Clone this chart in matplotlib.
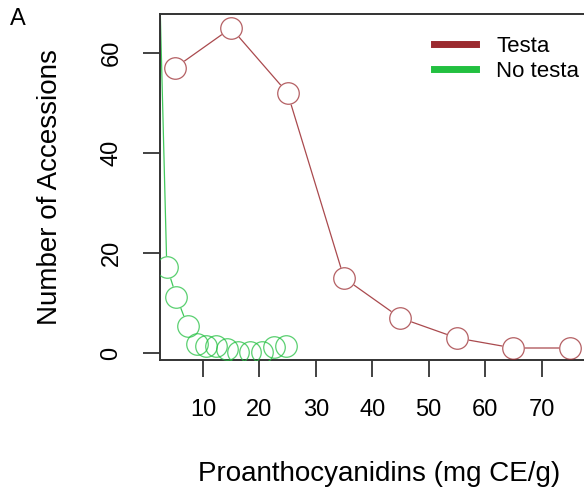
import matplotlib
matplotlib.use("Agg")
import matplotlib.pyplot as plt
from matplotlib.lines import Line2D

plt.rcParams["font.family"] = ["Liberation Sans", "DejaVu Sans"]

# Testa group: bin centres and counts
testa_x = [5, 15, 25, 35, 45, 55, 65, 75]
testa_y = [57, 65, 52, 15, 7, 3, 1, 1]

# No-testa group (first bin is off the top of the chart)
notesta_x = [1.5, 3.6, 5.3, 7.3, 9.0, 10.5, 12.4, 14.3, 16.3, 18.3, 20.4, 22.6, 24.7]
notesta_y = [110, 17.3, 11.3, 5.4, 1.9, 1.4, 1.4, 0.8, 0.3, 0.3, 0.3, 1.3, 1.4]

red = "#9b2a2f"
green = "#22c040"

fig = plt.figure(figsize=(5.84, 4.96), dpi=100)
ax = fig.add_axes([160 / 584, 136 / 496, 438 / 584, 346 / 496])

for xs, ys, col in [(testa_x, testa_y, red), (notesta_x, notesta_y, green)]:
    ax.plot(xs, ys, color=col, lw=0.9, alpha=0.85, zorder=1)
    # white discs break the line inside each circle, like R type="b"
    ax.plot(xs, ys, "o", ms=16.5, mfc="white", mec="none", zorder=2)
    ax.plot(xs, ys, "o", ms=15.5, mfc="none", mec=col, mew=0.9, alpha=0.75, zorder=3)

ax.set_xlim(2.4, 80)
ax.set_ylim(-1.4, 67.8)
ax.set_xticks([10, 20, 30, 40, 50, 60, 70])
ax.set_yticks([0, 20, 40, 60])
ax.tick_params(axis="both", length=12, width=1.2, labelsize=17, color="#222222")
ax.tick_params(axis="x", pad=16)
ax.tick_params(axis="y", pad=15)
for lab in ax.get_yticklabels():
    lab.set_rotation(90)
    lab.set_va("center")
for sp in ax.spines.values():
    sp.set_linewidth(1.4)
    sp.set_color("#333333")

ax.set_xlabel("Proanthocyanidins (mg CE/g)", fontsize=20, labelpad=29)
ax.set_ylabel("Number of Accessions", fontsize=20, labelpad=27)

handles = [Line2D([0], [0], color=red, lw=5), Line2D([0], [0], color=green, lw=5)]
ax.legend(handles, ["Testa", "No testa"], loc="upper left",
          bbox_to_anchor=(0.58, 0.995), frameon=False, fontsize=16,
          handlelength=1.9, handletextpad=0.9, labelspacing=0.2)

fig.text(10 / 584, 1 - 19 / 496, "A", fontsize=17, va="center", ha="left")

fig.savefig("out.png", dpi=100)
